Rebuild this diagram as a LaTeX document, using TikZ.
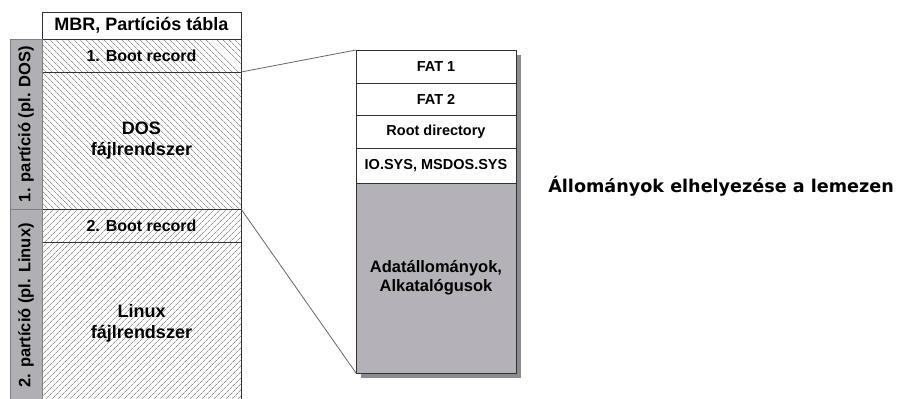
\documentclass[tikz,border=0pt]{standalone}
\usepackage{fontspec}
\setmainfont{Liberation Sans}
\newfontfamily\titlefont{DejaVu Sans}
\usetikzlibrary{positioning,patterns.meta,shadows}
\definecolor{bargray}{RGB}{176,176,180}
\definecolor{datagray}{RGB}{180,178,184}
\definecolor{hatchgray}{RGB}{150,150,150}
\definecolor{shadowgray}{RGB}{140,140,140}
\definecolor{edgegray}{RGB}{50,50,50}

\begin{document}
\begin{tikzpicture}[x=1pt, y=-1pt, outer sep=0pt,
        part/.style={rectangle,draw=edgegray,minimum width=199pt,align=center,
          font=\bfseries\fontsize{18}{21}\selectfont},
        dosfill/.style={pattern={Lines[angle=-45,distance=4pt,line width=0.8pt]},pattern color=hatchgray},
        linfill/.style={pattern={Lines[angle=45,distance=4pt,line width=0.8pt]},pattern color=hatchgray},
        bootrec/.style={minimum height=33pt,font=\bfseries\fontsize{16}{18}\selectfont},
        bar/.style={rectangle,draw=gray,fill=bargray,rotate=90,minimum height=32pt,
          font=\bfseries\fontsize{16.5}{18}\selectfont},
        slot/.style={rectangle,draw=edgegray,fill=white,minimum width=160pt,minimum height=33pt,
          align=center,font=\bfseries\fontsize{14.5}{17}\selectfont,
          drop shadow={shadow xshift=5pt,shadow yshift=-5pt,fill=shadowgray,opacity=1}},
        link/.style={draw=gray!80!black,line width=0.8pt}]
        \useasboundingbox (0,0) rectangle (903,399);
        % disk layout
        \node[part,fill=white,minimum height=27pt,anchor=north west] (mbr) at (42,12) {MBR, Partíciós tábla};
        \node[part,dosfill,bootrec,below=0pt of mbr] (boot1) {1. Boot record};
        \node[part,dosfill,minimum height=137pt,below=0pt of boot1] (dosfs) {DOS\\fájlrendszer};
        \node[part,linfill,bootrec,below=0pt of dosfs] (boot2) {2. Boot record};
        \node[part,linfill,minimum height=162pt,below=0pt of boot2] (linfs) {Linux\\fájlrendszer};
        \node[bar,minimum width=170pt] (bar1) at (26,124) {1. partíció (pl. DOS)};
        \node[bar,minimum width=193pt] (bar2) at (26,305.5) {2. partíció (pl. Linux)};
        % inside the DOS partition
        \node[slot,anchor=north west] (fat1) at (356,50) {FAT 1};
        \node[slot,minimum height=32pt,below=0pt of fat1] (fat2) {FAT 2};
        \node[slot,below=0pt of fat2] (root) {Root directory};
        \node[slot,minimum height=35pt,below=0pt of root] (iosys) {IO.SYS, MSDOS.SYS};
        \node[slot,fill=datagray,minimum height=190pt,below=0pt of iosys,
          font=\bfseries\fontsize{16.5}{19}\selectfont] (data) {Adatállományok,\\Alkatalógusok};
        \draw[link] (boot1.south east) -- (fat1.north west);
        \draw[link] (dosfs.south east) -- (data.south west);
        \node[anchor=base west,font=\titlefont\bfseries\fontsize{17.6}{20}\selectfont] (title) at (545,192)
          {Állományok elhelyezése a lemezen};
      \end{tikzpicture}
\end{document}
